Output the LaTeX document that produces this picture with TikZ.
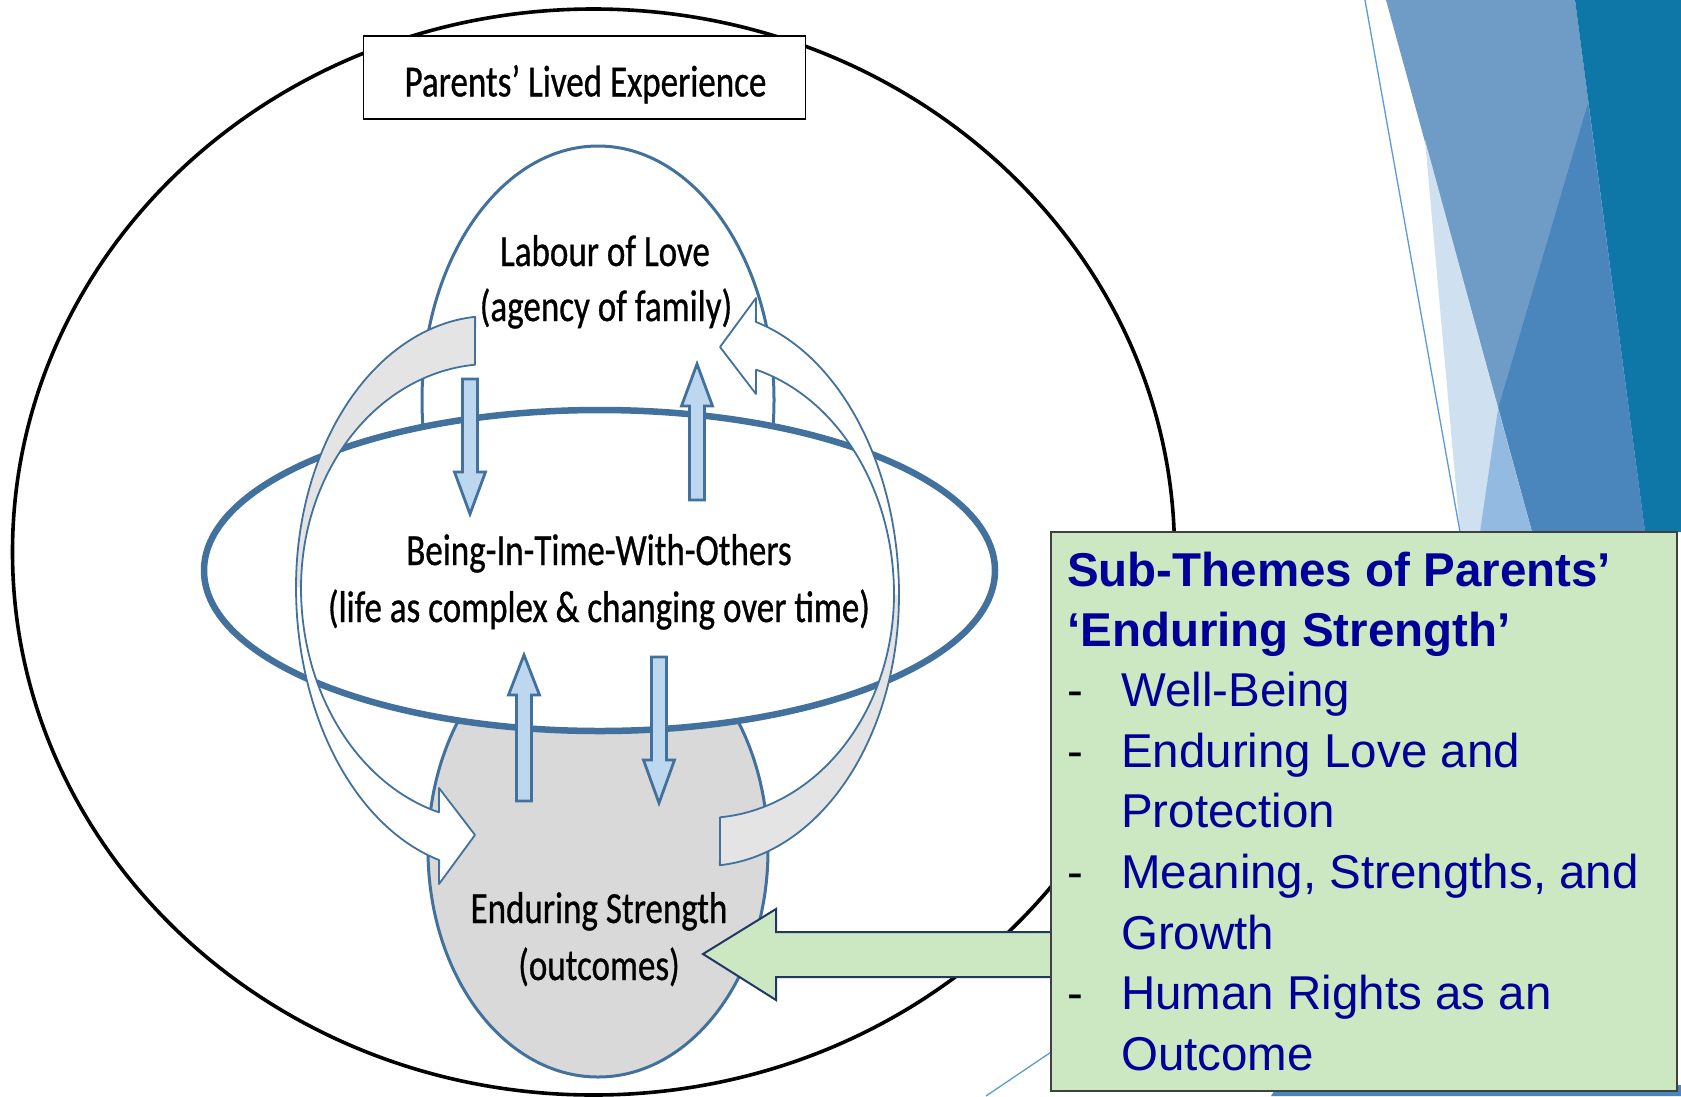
\documentclass[tikz,border=0pt]{standalone}
\usepackage{fontspec}
\newfontfamily\calfont[FakeStretch=0.787,FakeBold=0.7]{Carlito}
\newfontfamily\arialfont{Liberation Sans}
\definecolor{eblue}{HTML}{41719C}
\definecolor{esgray}{HTML}{D9D9D9}
\definecolor{cgray}{HTML}{E4E4E4}
\definecolor{abfill}{HTML}{BDD7EE}
\definecolor{gfill}{HTML}{CBE8C2}
\definecolor{gborder}{HTML}{1F3864}
\definecolor{navytext}{HTML}{000099}
\definecolor{thinblue}{HTML}{5B9BD5}
\definecolor{facetteal}{HTML}{0F77A8}
\definecolor{facetmid}{HTML}{6F9CC6}
\definecolor{facetdark}{HTML}{4A86BC}
\definecolor{facetlight}{HTML}{CFE0F1}
\definecolor{facetsoft}{HTML}{93BBE2}
\newcommand\blockarr[4]{\draw[blockarrow] (#1-7.5,#2) -- (#1+7.5,#2) -- (#1+7.5,#3) -- (#1+15.5,#3) -- (#1,#4) -- (#1-15.5,#3) -- (#1-7.5,#3) -- cycle;}
\newcommand\mycurvearrow{%
  \fill[cgray] plot[domain=265.6:180,samples=60,variable=\t] ({490+194*cos(\t)},{587+271*sin(\t)})
    -- plot[domain=180:265.45,samples=60,variable=\t] ({490+189*cos(\t)},{588+224*sin(\t)}) -- cycle;
  \fill[white] plot[domain=180:105.2,samples=60,variable=\t] ({490+194*cos(\t)},{587+283*sin(\t)})
    -- (439,884) -- (475,835) -- (439,788) -- (439,812)
    -- plot[domain=105.7:180,samples=60,variable=\t] ({490+189*cos(\t)},{588+233*sin(\t)}) -- cycle;
  \draw[curveline] plot[domain=265.6:180,samples=60,variable=\t] ({490+194*cos(\t)},{587+271*sin(\t)})
    -- plot[domain=180:105.2,samples=60,variable=\t] ({490+194*cos(\t)},{587+283*sin(\t)})
    -- (439,884) -- (475,835) -- (439,788) -- (439,812)
    -- plot[domain=105.7:180,samples=60,variable=\t] ({490+189*cos(\t)},{588+233*sin(\t)})
    -- plot[domain=180:265.45,samples=60,variable=\t] ({490+189*cos(\t)},{588+224*sin(\t)}) -- cycle;
}
\newcommand\itemdash{\makebox[54pt][l]{\textcolor{black}{-}}}
\begin{document}
\begin{tikzpicture}[x=1pt,y=-1pt,
  calib/.style={font=\calfont\fontsize{44.5}{53}\selectfont, inner sep=0pt, anchor=base},
  gtext/.style={font=\arialfont\fontsize{47.5}{57}\selectfont, inner sep=0pt, anchor=base west, text=navytext},
  gbold/.style={font=\arialfont\bfseries\fontsize{47.5}{57}\selectfont, inner sep=0pt, anchor=base west, text=navytext},
  ringline/.style={draw=eblue, line width=3pt},
  blockarrow/.style={draw=eblue, line width=2.8pt, fill=abfill, line join=miter},
  curveline/.style={draw=eblue, line width=1.8pt, line join=round},
]
\useasboundingbox (0,0) rectangle (1681,1096);
% facet decoration
\fill[facetmid] (1386,0) -- (1575,0) -- (1645,532) -- (1532,532) -- cycle;
\fill[facetteal] (1575,0) -- (1681,0) -- (1681,532) -- (1645,532) -- cycle;
\fill[facetdark] (1588,103) -- (1645,532) -- (1532,532) -- (1498,409) -- cycle;
\fill[facetlight] (1425,140) -- (1532,532) -- (1460,532) -- cycle;
\fill[facetsoft] (1498,409) -- (1532,532) -- (1480,532) -- cycle;
\draw[thinblue, line width=1.3pt] (1365,0) -- (1460,532);
\fill[facetdark] (1271,1096) -- (1278,1085) -- (1681,1085) -- (1681,1096) -- cycle;
\draw[thinblue, line width=1.3pt] (986,1096) -- (1060,1046);
% outer ellipse
\draw[black, line width=3.6pt] (593.5,552) ellipse [x radius=581pt, y radius=543pt];
% title box
\node[draw=black, line width=1.6pt, fill=white, minimum width=442pt, minimum height=83pt, inner sep=0pt] (pbox) at (584.5,77.5) {};
\node[calib] (ple) at (585.5,96.4) {Parents’ Lived Experience};
% three ellipses
\draw[ringline, fill=white] (598,400) ellipse [x radius=176pt, y radius=254pt];
\draw[ringline, fill=esgray] (598,850) ellipse [x radius=170pt, y radius=227pt];
\draw[draw=eblue, line width=6.5pt, fill=white] (599.5,570.5) ellipse [x radius=395.5pt, y radius=160.5pt];
% straight block arrows
\blockarr{470}{379}{472}{514}
\blockarr{697}{500}{406}{364}
\blockarr{524}{801}{695}{655}
\blockarr{659}{657}{760}{803}
% curved arrows
\mycurvearrow
\begin{scope}[rotate around={180:(597.5,591)}]
\mycurvearrow
\end{scope}
% labels
\node[calib] (lab1) at (605,266) {Labour of Love};
\node[calib] (lab2) at (606,321) {(agency of family)};
\node[calib] (bit1) at (599,565) {Being-In-Time-With-Others};
\node[calib] (bit2) at (599,622) {(life as complex \& changing over time)};
\node[calib] (es1) at (599,923) {Enduring Strength};
\node[calib] (es2) at (599,980) {(outcomes)};
% green arrow
\filldraw[fill=gfill, draw=gborder, line width=2pt, line join=miter] (1051,932) -- (776,932) -- (776,909) -- (703,954) -- (776,1000) -- (776,977) -- (1051,977) -- cycle;
% green box
\node[draw=black!75, line width=1.5pt, fill=gfill, minimum width=626pt, minimum height=559pt, inner sep=0pt] (gbox) at (1364,811.5) {};
\node[gbold] (g1) at (1067,586) {Sub-Themes of Parents’};
\node[gbold] (g2) at (1067,646) {‘Enduring Strength’};
\node[gtext] (g3) at (1067,706) {\itemdash Well-Being};
\node[gtext] (g4) at (1067,767) {\itemdash Enduring Love and};
\node[gtext] (g5) at (1121,827) {Protection};
\node[gtext] (g6) at (1067,888) {\itemdash Meaning, Strengths, and};
\node[gtext] (g7) at (1121,949) {Growth};
\node[gtext] (g8) at (1067,1009) {\itemdash Human Rights as an};
\node[gtext] (g9) at (1121,1070) {Outcome};
\end{tikzpicture}
\end{document}
